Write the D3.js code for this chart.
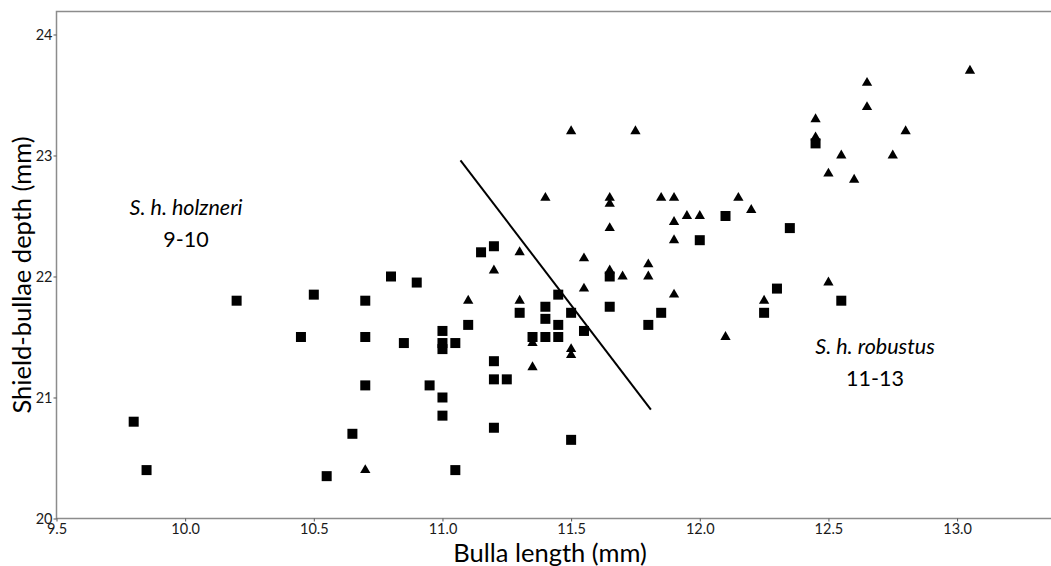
<!DOCTYPE html>
<html>
<head>
<meta charset="utf-8">
<script src="https://cdn.jsdelivr.net/npm/d3@7"></script>
<style>
  body { margin: 0; background: #fff; }
  text { font-family: Lato, "Open Sans", sans-serif; }
</style>
</head>
<body>
<div id="chart"></div>
<script>
// S. h. holzneri (squares): bulla length, shield-bullae depth
var squareX = [9.8, 9.85, 10.2, 10.45, 10.5, 10.55, 10.65, 10.7, 10.7, 10.7, 10.8, 10.85, 10.9, 10.95,
    11.0, 11.0, 11.0, 11.0, 11.0, 11.05, 11.05, 11.1, 11.15, 11.2, 11.2, 11.2, 11.2, 11.25, 11.3, 11.35,
    11.4, 11.4, 11.4, 11.45, 11.45, 11.45, 11.5, 11.5, 11.55, 11.65, 11.65, 11.8, 11.85, 12.0, 12.1,
    12.25, 12.3, 12.35, 12.45, 12.55];
var squareY = [20.8, 20.4, 21.8, 21.5, 21.85, 20.35, 20.7, 21.8, 21.5, 21.1, 22.0, 21.45, 21.95, 21.1,
    21.55, 21.45, 21.4, 21.0, 20.85, 21.45, 20.4, 21.6, 22.2, 22.25, 21.3, 21.15, 20.75, 21.15, 21.7, 21.5,
    21.75, 21.65, 21.5, 21.85, 21.6, 21.5, 21.7, 20.65, 21.55, 21.75, 22.0, 21.6, 21.7, 22.3, 22.5,
    21.7, 21.9, 22.4, 23.1, 21.8];

// S. h. robustus (triangles)
var triangleX = [10.7, 11.1, 11.2, 11.3, 11.3, 11.35, 11.35, 11.4, 11.5, 11.5, 11.5, 11.55, 11.55,
    11.65, 11.65, 11.65, 11.65, 11.7, 11.75, 11.8, 11.8, 11.85, 11.9, 11.9, 11.9, 11.9, 11.95, 12.0,
    12.1, 12.15, 12.2, 12.25, 12.45, 12.45, 12.5, 12.5, 12.55, 12.6, 12.65, 12.65, 12.75, 12.8, 13.05];
var triangleY = [20.4, 21.8, 22.05, 22.2, 21.8, 21.45, 21.25, 22.65, 23.2, 21.4, 21.35, 22.15, 21.9,
    22.65, 22.6, 22.4, 22.05, 22.0, 23.2, 22.1, 22.0, 22.65, 22.65, 22.45, 22.3, 21.85, 22.5, 22.5,
    21.5, 22.65, 22.55, 21.8, 23.3, 23.15, 22.85, 21.95, 23.0, 22.8, 23.6, 23.4, 23.0, 23.2, 23.7];

// dividing line
var lineX = [11.07, 11.81];
var lineY = [22.96, 20.9];

var xTicks = [9.5, 10.0, 10.5, 11.0, 11.5, 12.0, 12.5, 13.0];
var yTicks = [20, 21, 22, 23, 24];

var w = 1051, h = 566;
var plotLeft = 56.5, plotTop = 11.5, plotRight = 1051, plotBottom = 518.5;

var svg = d3.select("#chart").append("svg")
    .attr("width", w)
    .attr("height", h);

var x = d3.scaleLinear().domain([9.5, 13.365]).range([plotLeft, plotRight]);
var y = d3.scaleLinear().domain([20, 24.19]).range([plotBottom, plotTop]);

// frame: top line, left and bottom axes
svg.append("path")
    .attr("d", "M" + plotRight + "," + plotTop + "H" + plotLeft + "V" + plotBottom + "H" + plotRight)
    .attr("fill", "none")
    .attr("stroke", "#8c8c8c")
    .attr("stroke-width", 1.5);

var xAxis = svg.append("g")
    .attr("transform", "translate(0," + plotBottom + ")")
    .call(d3.axisBottom(x).tickValues(xTicks).tickFormat(d3.format(".1f")).tickSize(3).tickPadding(2));
var yAxis = svg.append("g")
    .attr("transform", "translate(" + plotLeft + ",0)")
    .call(d3.axisLeft(y).tickValues(yTicks).tickFormat(d3.format("d")).tickSize(3).tickPadding(1));

[xAxis, yAxis].forEach(function (g) {
    g.select(".domain").remove();
    g.selectAll(".tick line").attr("stroke", "#555");
    g.selectAll(".tick text")
        .attr("fill", "#1a1a1a")
        .style("font-family", "Lato, sans-serif")
        .style("font-size", "14.5px");
});

// squares
var sq = 10;
svg.selectAll(".sq")
    .data(squareX)
    .enter()
    .append("rect")
    .attr("class", "sq")
    .attr("x", function (d) { return x(d) - sq / 2; })
    .attr("y", function (d, i) { return y(squareY[i]) - sq / 2; })
    .attr("width", sq)
    .attr("height", sq)
    .attr("fill", "#000");

// triangles
var tri = d3.symbol().type(d3.symbolTriangle).size(46);
svg.selectAll(".tri")
    .data(triangleX)
    .enter()
    .append("path")
    .attr("class", "tri")
    .attr("transform", function (d, i) { return "translate(" + x(d) + "," + y(triangleY[i]) + ")"; })
    .attr("d", tri)
    .attr("fill", "#000");

// separating line
svg.append("line")
    .attr("x1", x(lineX[0])).attr("y1", y(lineY[0]))
    .attr("x2", x(lineX[1])).attr("y2", y(lineY[1]))
    .attr("stroke", "#000")
    .attr("stroke-width", 2);

// group labels
function groupLabel(cx, cy, name, range) {
    svg.append("text")
        .attr("x", cx).attr("y", cy)
        .attr("text-anchor", "middle")
        .style("font-size", "21.5px")
        .style("font-style", "italic")
        .text(name);
    svg.append("text")
        .attr("x", cx).attr("y", cy + 32)
        .attr("text-anchor", "middle")
        .style("font-size", "21.5px")
        .text(range);
}
groupLabel(186, 215, "S. h. holzneri", "9-10");
groupLabel(875, 354, "S. h. robustus", "11-13");

// axis titles
svg.append("text")
    .attr("x", 550).attr("y", 562)
    .attr("text-anchor", "middle")
    .style("font-size", "25.5px")
    .text("Bulla length (mm)");

svg.append("text")
    .attr("transform", "translate(31,275) rotate(-90)")
    .attr("text-anchor", "middle")
    .style("font-size", "25.5px")
    .text("Shield-bullae depth (mm)");
</script>
</body>
</html>
